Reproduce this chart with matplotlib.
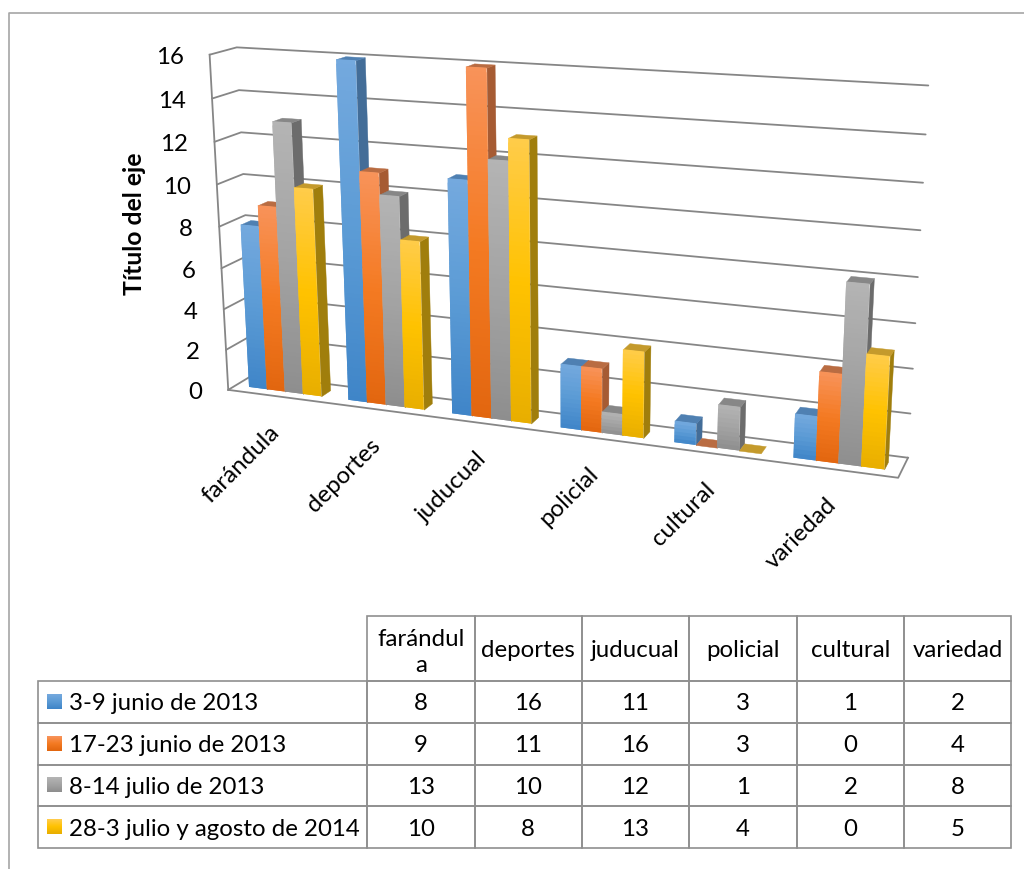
import numpy as np
import matplotlib
matplotlib.use("Agg")
import matplotlib.pyplot as plt
from matplotlib.colors import LinearSegmentedColormap, to_rgb
from matplotlib.table import Table
from mpl_toolkits.mplot3d.art3d import Poly3DCollection

categories = ["farándula", "deportes", "juducual", "policial", "cultural", "variedad"]
series_names = ["3-9 junio de 2013", "17-23 junio de 2013", "8-14 julio de 2013", "28-3 julio y agosto de 2014"]
v_junio_a = [8, 16, 11, 3, 1, 2]
v_junio_b = [9, 11, 16, 3, 0, 4]
v_julio = [13, 10, 12, 1, 2, 8]
v_agosto = [10, 8, 13, 4, 0, 5]
y_ticks = [0, 2, 4, 6, 8, 10, 12, 14, 16]

FONT = "Lato"
plt.rcParams["font.family"] = [FONT, "DejaVu Sans"]
W, H = 1024, 869

# axis-frame calibration: (category axis, depth, value) -> pixel of the frame
cal = [
    ((0, 0, 16), (209, 55)), ((0, 0, 14), (212, 98)), ((0, 0, 12), (214, 142)),
    ((0, 0, 10), (217, 184)), ((0, 0, 8), (220.5, 227)), ((0, 0, 0), (228, 390)),
    ((0, 1, 16), (238, 47.5)), ((0, 1, 14), (238.5, 90)), ((0, 1, 12), (240.7, 132.7)),
    ((0, 1, 10), (243, 174)), ((0, 1, 8), (245, 215)),
    ((6, 1, 16), (929, 85)), ((6, 1, 14), (926, 134)), ((6, 1, 12), (922, 183)),
    ((6, 1, 10), (919, 232)), ((6, 1, 8), (918, 277)), ((6, 1, 6), (916, 323)),
    ((6, 1, 4), (914, 368)), ((6, 1, 2), (910, 413)), ((6, 1, 0), (908, 458)),
    ((6, 0, 0), (898, 478)),
]
rows, rhs = [], []
for (X, Y, Z), (u, v) in cal:
    rows.append([X, Y, Z, 1, 0, 0, 0, 0, -u * X, -u * Y, -u * Z]); rhs.append(u)
    rows.append([0, 0, 0, 0, X, Y, Z, 1, -v * X, -v * Y, -v * Z]); rhs.append(v)
p = np.linalg.lstsq(np.array(rows, float), np.array(rhs, float), rcond=None)[0]
P = np.array([[p[0], p[1], p[2], p[3]], [p[4], p[5], p[6], p[7]], [p[8], p[9], p[10], 1.0]])


def to_px(x, d, val):
    q = P @ np.array([x, d, val, 1.0])
    return q[0] / q[2], q[1] / q[2]


fig = plt.figure(figsize=(W / 100, H / 100), dpi=100, facecolor="white")
ax = fig.add_axes([0, 0, 1, 1], projection="3d", computed_zorder=False)
ax.set_axis_off()
ax.set_xlim(0, 6); ax.set_ylim(0, 1); ax.set_zlim(0, 16)
ax.set_xticks([]); ax.set_yticks([]); ax.set_zticks([])


def get_proj():
    inv = ax.transData.inverted()
    o = inv.transform((0, H)); e = inv.transform((1, H - 1))
    sx, sy = e[0] - o[0], e[1] - o[1]
    A = np.array([[sx, 0, o[0]], [0, sy, o[1]], [0, 0, 1.0]])
    Q = A @ P
    return np.array([Q[0], Q[1], [0.0, -1e-3, 0.0, 0.0], Q[2]])


ax.get_proj = get_proj

GRID = "#868686"
LW = 1.3
for i, t in enumerate(y_ticks):
    ax.plot([0, 0, 6], [0, 1, 1], [t, t, t], color=GRID, lw=LW, zorder=1, solid_capstyle="round")
ax.plot([0, 0], [0, 0], [0, 16], color=GRID, lw=LW, zorder=1)
ax.plot([0, 6, 6], [0, 0, 1], [0, 0, 0], color=GRID, lw=LW, zorder=1.5)

series = [v_junio_a, v_junio_b, v_julio, v_agosto]
front_stops = [("#74A9DE", "#5B9BD5", "#3F85C8"), ("#F8935A", "#F47A22", "#E2660F"),
               ("#B4B4B4", "#A3A3A3", "#8E8E8E"), ("#FFCC4A", "#FFC200", "#E8AE00")]
side_cols = ["#436D98", "#A65B33", "#6C6C6C", "#A07E0C"]
top_cols = ["#4F80B2", "#B96C42", "#878787", "#C49A2C"]
GAP = 0.135
BW = (1 - 2 * GAP) / 4
D0, D1 = 0.30, 0.68
STRIPS_PER_UNIT = 5


def ramp(stops, f):
    a, b, c = [np.array(to_rgb(s)) for s in stops]
    return tuple(a + (b - a) * f / 0.5) if f < 0.5 else tuple(b + (c - b) * (f - 0.5) / 0.5)


z = 2.0
for c in range(len(categories)):
    for s in range(4):
        val = series[s][c]
        x0 = c + GAP + s * BW
        x1 = x0 + BW
        if val > 0:
            side = [[(x1, D0, 0), (x1, D1, 0), (x1, D1, val), (x1, D0, val)]]
            ax.add_collection3d(Poly3DCollection(side, facecolors=side_cols[s], edgecolors=side_cols[s],
                                                 linewidths=0.3, zorder=z))
            z += 0.001
        top = [[(x0, D0, val), (x1, D0, val), (x1, D1, val), (x0, D1, val)]]
        ax.add_collection3d(Poly3DCollection(top, facecolors=top_cols[s], edgecolors=top_cols[s],
                                             linewidths=0.3, zorder=z))
        z += 0.001
        if val > 0:
            n = max(6, val * STRIPS_PER_UNIT)
            fr = np.linspace(0, 1, n + 1)
            for k in range(n):
                za = val * (1 - fr[k])
                zb = val * (1 - fr[min(k + 2, n)])
                col = ramp(front_stops[s], (fr[k] + fr[k + 1]) / 2)
                ax.add_collection3d(Poly3DCollection(
                    [[(x0, D0, zb), (x1, D0, zb), (x1, D0, za), (x0, D0, za)]],
                    facecolors=[col], edgecolors="none", linewidths=0, zorder=z))
                z += 0.001

TICK = 17.3

# overlay in pixel units: frame, title, tick labels, data table, legend keys
ov = fig.add_axes([0, 0, 1, 1], zorder=5)
ov.patch.set_alpha(0)
ov.set_axis_off()
ov.set_xticks([]); ov.set_yticks([])
ov.plot([8.7, 8.7, W], [H, 13, 13], color="#A6A6A6", lw=1.2)
ov.text(135, 224, "Título del eje", rotation=90, ha="center", va="center", fontsize=17.8, fontweight="bold")

for t in y_ticks:
    u, v = to_px(0, 0, t)
    ov.text(u - 26, v + 1, str(t), ha="right", va="center_baseline", fontsize=TICK, color="black")
for c, name in enumerate(categories):
    u, v = to_px(c + 0.5, 0, 0)
    ov.text(u - 9, v + 25, name, ha="right", va="top", rotation=45, rotation_mode="anchor",
            fontsize=TICK, color="black")

col_edges = [38, 367, 474.5, 581.7, 689, 797, 904, 1011]
row_edges = [616, 681, 723, 764.5, 806, 848]
tbl = Table(ov, bbox=[col_edges[0] / W, 1 - row_edges[-1] / H,
                      (col_edges[-1] - col_edges[0]) / W, (row_edges[-1] - row_edges[0]) / H])
tbl.auto_set_font_size(False)
EDGE = "#8F8F8F"
header = ["farándul\na"] + categories[1:]
for r in range(5):
    for c in range(7):
        w = (col_edges[c + 1] - col_edges[c]) / W
        h = (row_edges[r + 1] - row_edges[r]) / H
        if r == 0 and c == 0:
            txt, loc = "", "center"
        elif r == 0:
            txt, loc = header[c - 1], "center"
        elif c == 0:
            txt, loc = series_names[r - 1], "left"
        else:
            txt, loc = str(series[r - 1][c - 1]), "center"
        cell = tbl.add_cell(r, c, w, h, text=txt, loc=loc, edgecolor=EDGE, facecolor="none")
        cell.set_linewidth(1.2)
        cell.get_text().set_fontsize(TICK)
        cell.get_text().set_va("center_baseline")
        if c == 0:
            cell.PAD = 31 / 329
        if r == 0 and c == 0:
            cell.visible_edges = "open"
        if r == 0 and c == 1:
            cell.get_text().set_linespacing(1.25)
ov.add_table(tbl)

for i in range(4):
    cmap = LinearSegmentedColormap.from_list("k", front_stops[i])
    top_y = row_edges[i + 1] + 13
    ov.imshow(np.linspace(0, 1, 16).reshape(-1, 1), cmap=cmap, aspect="auto",
              extent=(47, 62, top_y + 15, top_y), interpolation="bilinear", zorder=3)
ov.set_xlim(0, W)
ov.set_ylim(H, 0)

fig.savefig("out.png", dpi=100, facecolor="white")
